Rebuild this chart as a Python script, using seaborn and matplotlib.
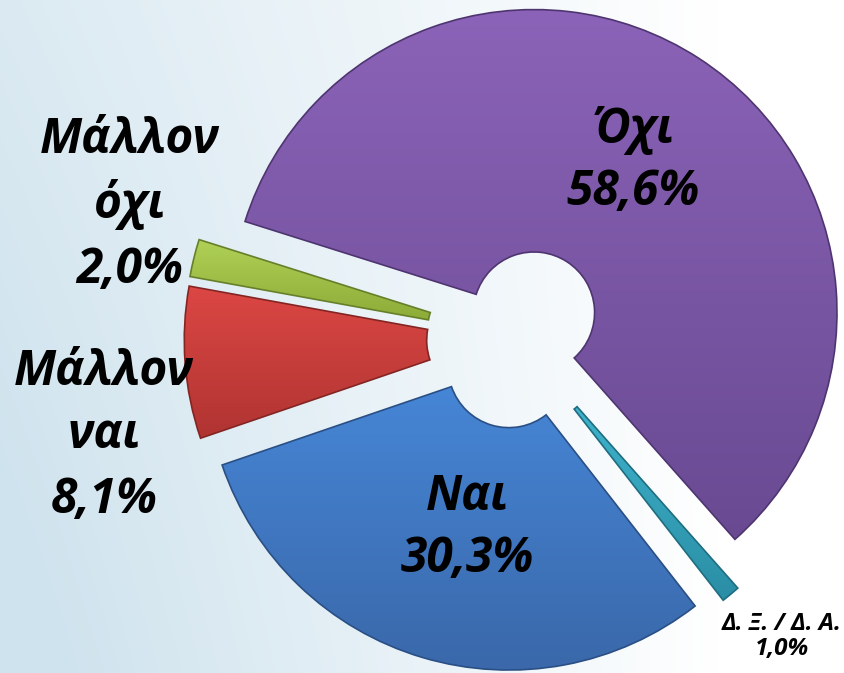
import numpy as np
import pandas as pd
import seaborn as sns
import matplotlib
matplotlib.use("Agg")
import matplotlib.pyplot as plt
from matplotlib.colors import to_rgb

# ---- data ----
categories = ["Όχι", "Δ. Ξ. / Δ. Α.", "Ναι", "Μάλλον ναι", "Μάλλον όχι"]
values = [58.6, 1.0, 30.3, 8.1, 2.0]
value_labels = ["58,6%", "1,0%", "30,3%", "8,1%", "2,0%"]
label_lines = [["Όχι"], ["Δ. Ξ. / Δ. Α."], ["Ναι"], ["Μάλλον", "ναι"], ["Μάλλον", "όχι"]]

df = pd.DataFrame({"category": categories, "value": values})

# ---- style ----
sns.set_theme(style="white")
plt.rcParams["font.family"] = ["Open Sans", "DejaVu Sans"]

top_colors = ["#8b63b8", "#3fb3cc", "#4686d6", "#dc4744", "#b0d156"]
bot_colors = ["#694a92", "#2a8ea5", "#3a68aa", "#b03432", "#8cab38"]
edge_colors = ["#4e3570", "#1f6d80", "#2a4f85", "#842523", "#66802a"]

W, H = 845, 673
fig = plt.figure(figsize=(W / 100, H / 100), dpi=100)

# background gradient
ax_bg = fig.add_axes([0, 0, 1, 1])
xx, yy = np.meshgrid(np.linspace(0, 1, 400), np.linspace(0, 1, 320))
a = np.clip((1 - xx / 0.85) * (0.75 + 0.35 * yy), 0, 1)
blue = np.array(to_rgb("#cfe3ee"))
img = (1 - a[..., None]) * 1.0 + a[..., None] * blue
ax_bg.imshow(img, extent=[0, 1, 1, 0], aspect="auto", origin="upper")
ax_bg.set_xlim(0, 1)
ax_bg.set_ylim(1, 0)
ax_bg.axis("off")

# pie axes: center at pixel (517.5, 338), radius 303 px
cx, cy, R = 517.5, 338.0, 303.0
ax = fig.add_axes([0, 0, 1, 1])
ax.patch.set_alpha(0)
wedges, _ = ax.pie(
    df["value"], startangle=162.5, counterclock=False, radius=1.0,
    explode=[0.1] * len(values), colors=top_colors,
    wedgeprops=dict(width=0.8, linewidth=0),
)
ax.set_aspect("auto")
ax.axis("off")

# vertical gradient fill + darker edge for each wedge
for w, ct, cb, ce in zip(wedges, top_colors, bot_colors, edge_colors):
    ext = w.get_path().get_extents()
    g = np.linspace(0, 1, 256)[:, None]
    col = (1 - g)[..., None] * np.array(to_rgb(ct)) + g[..., None] * np.array(to_rgb(cb))
    col = np.repeat(col, 2, axis=1)
    im = ax.imshow(col, extent=[ext.x0, ext.x1, ext.y0, ext.y1], origin="upper",
                   aspect="auto", zorder=2)
    im.set_clip_path(w)
    w.set_facecolor("none")
    w.set_edgecolor(ce)
    w.set_linewidth(1.2)
    w.set_zorder(3)

ax.set_aspect("auto")
ax.set_xlim(-cx / R, (W - cx) / R)
ax.set_ylim(-(H - cy) / R, cy / R)

# ---- labels (center x, baselines in pixels) ----
big = dict(fontsize=34.5, fontweight="bold", fontstyle="italic", color="black",
           ha="center", va="baseline")
small = dict(big, fontsize=17.5)

label_pos = {
    0: (633, [143, 205], big),
    1: (782, [630, 655], small),
    2: (467, [510, 572], big),
    3: (104, [385, 448, 513], big),
    4: (130, [153, 218, 283], big),
}
for i, (x, ys, st) in label_pos.items():
    lines = label_lines[i] + [value_labels[i]]
    for line, y in zip(lines, ys):
        fig.text(x / W, 1 - y / H, line, **st, zorder=5)

fig.savefig("out.png", dpi=100)
